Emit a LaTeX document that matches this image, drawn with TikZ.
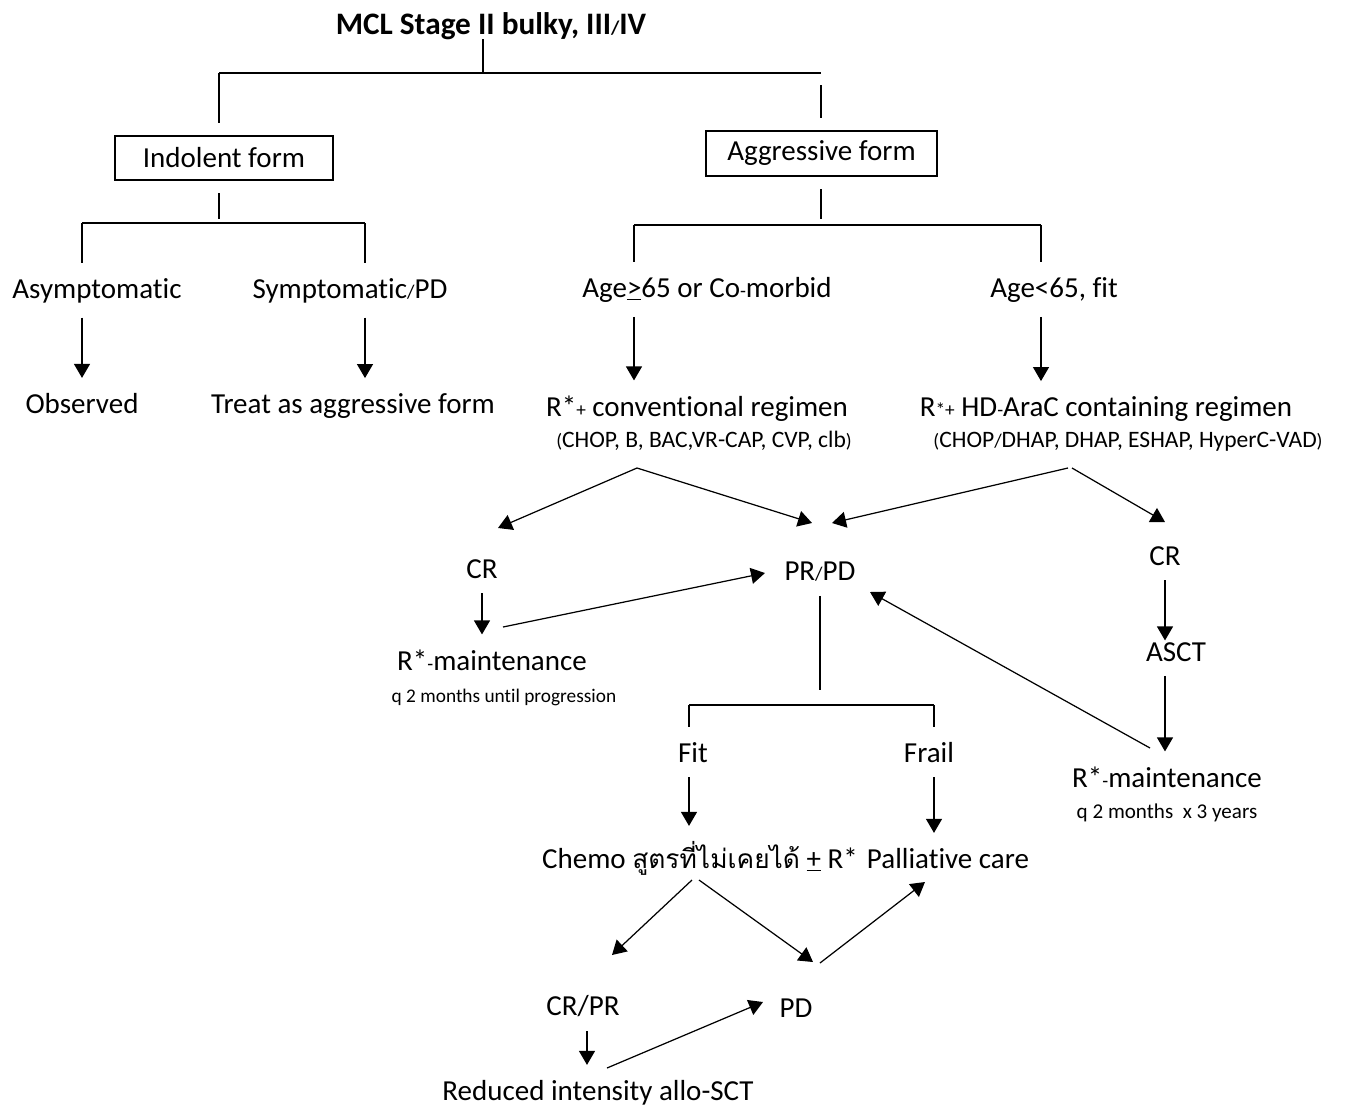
\documentclass[tikz,border=0pt]{standalone}
\usepackage{fontspec}
\setmainfont{Carlito}[Ligatures=NoCommon]
\newfontfamily\thaifont[Script=Thai]{Loma}
\usetikzlibrary{arrows.meta}
% small glyphs (slash, hyphen, plus) as in the source
\newcommand{\smc}[1]{{\fontsize{11}{11}\selectfont #1}}

\begin{document}
\begin{tikzpicture}[x=0.02cm, y=-0.02cm, line width=0.7pt,
  every node/.style={font=\fontsize{16.5}{19}\selectfont, anchor=base, inner sep=0pt, outer sep=0.3cm},
  head/.style={font=\bfseries\fontsize{17.8}{21}\selectfont, outer sep=0pt},
  formbox/.style={draw, anchor=center, outer sep=0.26cm},
  regimen/.style={font=\fontsize{13.4}{16}\selectfont},
  sched/.style={font=\fontsize{11}{13}\selectfont},
  arr/.style={-{Triangle[length=0.28cm, width=0.32cm]}}]
\useasboundingbox (0,0) rectangle (1347,1110);

% nodes
\node[head] (mcl) at (491,34) {MCL Stage II bulky, III\smc{/}IV};
\node[formbox, minimum width=4.36cm, minimum height=0.88cm] (ind) at (224,158) {Indolent form};
\node[formbox, minimum width=4.62cm, minimum height=0.9cm] (agg) at (821.5,153.5) {Aggressive form};

\node (asym) at (97,298) {Asymptomatic};
\node (symp) at (350,298) {Symptomatic\smc{/}PD};
\node (obs) at (82,413) {Observed};
\node (treat) at (353,413) {Treat as aggressive form};

\node (old) at (707,297) {Age\underline{>}65 or Co\smc{-}morbid};
\node (young) at (1054,297) {Age<65, fit};
\node (conv) at (697,416) {R*\smc{+} conventional regimen};
\node[regimen] (convsub) at (704,447) {\smc{(}CHOP, B, BAC,VR-CAP, CVP, clb\smc{)}};
\node (hd) at (1106,416) {R\smc{*+} HD\smc{-}AraC containing regimen};
\node[regimen] (hdsub) at (1128,447) {\smc{(}CHOP\smc{/}DHAP, DHAP, ESHAP, HyperC-VAD\smc{)}};

\node (crL) at (482,578) {CR};
\node (prpd) at (820,580) {PR\smc{/}PD};
\node (crR) at (1165,565) {CR};
\node (mainL) at (492,670) {R*\smc{-}maintenance};
\node[sched] (mainLsub) at (504,702) {q 2 months until progression};
\node[outer sep=1pt] (ascT) at (1176,661) {ASCT};
\node (mainR) at (1167,787) {R*\smc{-}maintenance};
\node[sched, font=\fontsize{12}{14}\selectfont] (mainRsub) at (1167,818) {q 2 months\ \ x 3 years};

\node (fit) at (693,762) {Fit};
\node (frail) at (929,762) {Frail};
\node (chemo) at (700,868) {Chemo {\thaifont\fontsize{15}{18}\selectfont สูตรที่ไม่เคยได้} \underline{+} R*};
\node (pall) at (948,868) {Palliative care};
\node (crpr) at (583,1015) {CR/PR};
\node (pd) at (796,1017) {PD};
\node (ric) at (598,1100) {Reduced intensity allo-SCT};

% tree joints
\coordinate (t1) at (483,73);
\coordinate (t1l) at (219,73);
\coordinate (t1r) at (821,73);
\coordinate (t2) at (219,219);
\coordinate (t2l) at (82,223);
\coordinate (t2r) at (365,223);
\coordinate (t3) at (821,219);
\coordinate (t3l) at (634,225);
\coordinate (t3r) at (1041,225);
\coordinate (t4) at (820,690);
\coordinate (t4l) at (689,705);
\coordinate (t4r) at (934,705);

% stage split
\draw (t1 |- mcl.south) -- (t1);
\draw (t1l) -- (t1r);
\draw (t1l) -- (t1l |- ind.north);
\draw ([yshift=-0.24cm]t1r) -- (t1r |- agg.north);

% indolent
\draw (t2 |- ind.south) -- (t2);
\draw (t2l) -- (t2r);
\draw (t2l) -- (t2l |- asym.north);
\draw (t2r) -- (t2r |- symp.north);
\draw[arr] (t2l |- asym.south) -- (t2l |- obs.north);
\draw[arr] (t2r |- symp.south) -- (t2r |- treat.north);

% aggressive
\draw (t3 |- agg.south) -- (t3);
\draw (t3l) -- (t3r);
\draw (t3l) -- (t3l |- old.north);
\draw (t3r) -- (t3r |- young.north);
\draw[arr] (t3l |- old.south) -- (t3l |- conv.north);
\draw[arr] (t3r |- young.south) -- (t3r |- hd.north);

% response to first line
\draw[arr] ([shift={(-67,21)}]convsub.base) -- ([shift={(16,-50)}]crL.base);
\draw[arr] ([shift={(-67,21)}]convsub.base) -- ([shift={(-8,-57)}]prpd.base);
\draw[arr] ([shift={(-60,21)}]hdsub.base) -- ([shift={(12,-57)}]prpd.base);
\draw[arr] ([shift={(-56,21)}]hdsub.base) -- ([shift={(0,-43)}]crR.base);

\draw[arr] (crL.south) -- (crL.south |- mainL.north);
\draw[arr] ([shift={(11,-43)}]mainL.base) -- ([shift={(-55,-7)}]prpd.base);
\draw[arr] (crR.south) -- (crR.south |- ascT.north);
\draw[arr, shorten <=0.26cm] (crR.south |- ascT.south) -- (crR.south |- mainR.north);
\draw[arr] ([shift={(-17,-39)}]mainR.base) -- ([shift={(50,12)}]prpd.base);

% relapse
\draw (t4 |- prpd.south) -- (t4);
\draw (t4l) -- (t4r);
\draw (t4l) -- (t4l |- fit.north);
\draw (t4r) -- (t4r |- frail.north);
\draw[arr] (t4l |- fit.south) -- (t4l |- chemo.north);
\draw[arr] (t4r |- frail.south) -- (t4r |- pall.north);

\draw[arr] ([shift={(-8,12)}]chemo.base) -- ([shift={(29,-60)}]crpr.base);
\draw[arr] ([shift={(-1,12)}]chemo.base) -- ([shift={(17,-55)}]pd.base);
\draw[arr] ([shift={(24,-54)}]pd.base) -- ([shift={(-23,14)}]pall.base);
\draw[arr] ([xshift=0.08cm]crpr.south) -- ([xshift=0.08cm]crpr.south |- ric.north);
\draw[arr] ([shift={(9,-32)}]ric.base) -- ([shift={(-33,-15)}]pd.base);
\end{tikzpicture}
\end{document}
